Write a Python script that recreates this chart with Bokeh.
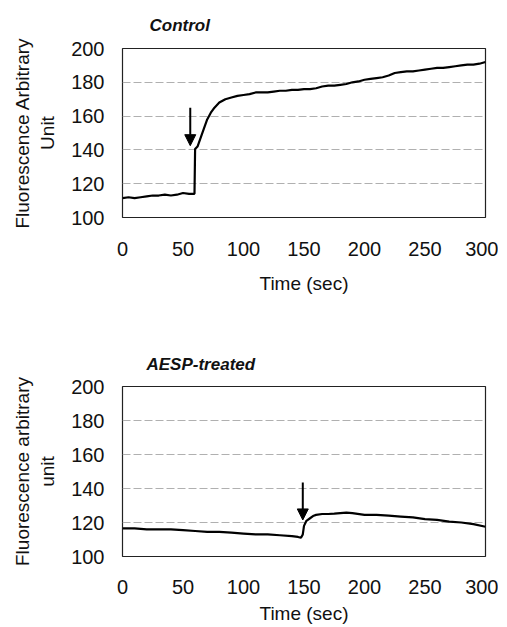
from bokeh.plotting import figure
from bokeh.layouts import column
from bokeh.models import FixedTicker, Arrow, NormalHead, Title
from bokeh.embed import file_html
from bokeh.resources import INLINE

# Control trace (time sec, fluorescence)
ctrl_t = [0, 5, 10, 15, 20, 25, 30, 35, 40, 45, 50, 55, 59.5, 60, 62, 65, 68, 70, 73, 76, 80,
          85, 90, 95, 100, 105, 110, 115, 120, 125, 130, 135, 140, 145, 150, 155, 160, 165,
          170, 175, 180, 185, 190, 195, 200, 205, 210, 215, 220, 225, 230, 235, 240, 245,
          250, 255, 260, 265, 270, 275, 280, 285, 290, 295, 300]
ctrl_y = [111.5, 112, 111.5, 112, 112.5, 113, 113, 113.5, 113, 113.5, 114.5, 114, 114, 140.5, 142, 148, 154, 158, 162, 165, 168,
          170, 171, 172, 172.5, 173, 174, 174, 174, 174.5, 175, 175, 175.5, 175.5, 176, 176, 176.5, 177.5,
          178, 178, 178.5, 179, 180, 180.5, 181.5, 182, 182.5, 183, 184, 185.5, 186, 186.5, 186.5, 187,
          187.5, 188, 188.5, 188.5, 189, 189.5, 190, 190.5, 190.5, 191, 192]

# AESP-treated trace
aesp_t = [0, 10, 20, 30, 40, 50, 60, 70, 80, 90, 100, 110, 120, 130, 140, 145, 147.5, 149, 150, 152, 155, 158,
          160, 165, 170, 175, 180, 185, 190, 200, 210, 220, 230, 240, 250, 260, 270, 280, 290, 300]
aesp_y = [116.5, 116.5, 116, 116, 116, 115.5, 115, 114.5, 114.5, 114, 113.5, 113, 113, 112.5, 112, 111.5, 111, 113, 118, 121, 122.5, 124,
          124.5, 125, 125, 125.2, 125.5, 125.8, 125.5, 124.5, 124.5, 124, 123.5, 123, 122, 121.5, 120.5, 120, 119, 117.5]

# Arrows (time, start value, tip value)
ctrl_arrow = (56, 165, 142.5)
aesp_arrow = (149, 143.5, 121.5)

y_ticks = [100, 120, 140, 160, 180, 200]
x_ticks = [0, 50, 100, 150, 200, 250, 300]

FONT = "Liberation Sans"


def make_panel(t, y, arrow, title, ylabel, frame_h, border_top, border_bottom, title_offset,
               title_standoff, tick_standoff, label_standoff):
    p = figure(frame_width=363, frame_height=frame_h, x_range=(0, 300), y_range=(100, 200),
               output_backend="svg", toolbar_location=None,
               min_border_left=122, min_border_right=13,
               min_border_top=border_top, min_border_bottom=border_bottom)
    p.background_fill_color = "white"
    p.border_fill_color = "white"
    p.outline_line_color = "#222222"
    p.outline_line_width = 1.2

    p.xgrid.visible = False
    p.ygrid.ticker = FixedTicker(ticks=[120, 140, 160, 180])
    p.ygrid.grid_line_color = "#b0b0b0"
    p.ygrid.grid_line_dash = "8 3"
    p.ygrid.grid_line_width = 1

    for ax in (p.xaxis, p.yaxis):
        ax.axis_line_color = None
        ax.major_tick_line_color = None
        ax.minor_tick_line_color = None
        ax.major_label_text_font = FONT
        ax.major_label_text_font_size = "20px"
        ax.major_label_text_color = "#111111"
        ax.axis_label_text_font = FONT
        ax.axis_label_text_font_size = "19px"
        ax.axis_label_text_font_style = "normal"
        ax.axis_label_text_color = "#111111"

    p.xaxis.ticker = FixedTicker(ticks=x_ticks)
    p.yaxis.ticker = FixedTicker(ticks=y_ticks)
    p.xaxis.major_label_standoff = tick_standoff
    p.yaxis.major_label_standoff = 12
    p.xaxis.axis_label = "Time (sec)"
    p.xaxis.axis_label_standoff = label_standoff
    p.yaxis.axis_label = ylabel
    p.yaxis.axis_label_standoff = 10

    p.line(t, y, line_color="black", line_width=2.2)

    ax_t, y0, y1 = arrow
    p.add_layout(Arrow(end=NormalHead(size=11, fill_color="black", line_color="black"),
                       x_start=ax_t, y_start=y0, x_end=ax_t, y_end=y1,
                       line_color="black", line_width=2))

    tt = Title(text=title, align="left", offset=title_offset,
               text_font=FONT, text_font_size="17px", text_font_style="bold italic",
               text_color="#111111", standoff=title_standoff)
    p.add_layout(tt, "above")
    return p


p1 = make_panel(ctrl_t, ctrl_y, ctrl_arrow, "Control", "Fluorescence Arbitrary\nUnit",
                169, 48, 90, 27, 27, 18, 14)
p2 = make_panel(aesp_t, aesp_y, aesp_arrow, "AESP-treated", "Fluorescence arbitrary\nunit",
                170, 79, 40, 24, 25, 17, 6)

layout = column(p1, p2, spacing=0)
open("out.html", "w").write(file_html(layout, INLINE))
